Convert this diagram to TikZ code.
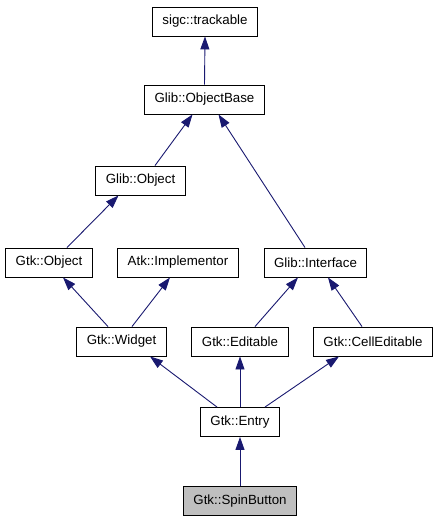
\documentclass[tikz,border=0pt]{standalone}
\usepackage{fontspec}
\setmainfont{Liberation Sans}
\usetikzlibrary{arrows.meta,calc}
\definecolor{edgec}{HTML}{191970}
\definecolor{currc}{HTML}{BFBFBF}

\begin{document}
\begin{tikzpicture}[x=1pt, y=-1pt,
  cls/.style={draw=black, line width=0.9pt, fill=white, minimum height=29pt,
    inner xsep=10pt, font=\fontsize{13.3}{16}\selectfont},
  inh/.style={draw=edgec, line width=0.9pt, -{Triangle[length=13pt,width=9pt]}}]
  \useasboundingbox (0,0) rectangle (439,523);
  \node[cls] (trackable) at (205,21.5) {sigc::trackable};
  \node[cls] (objectbase) at (204.5,99.5) {Glib::ObjectBase};
  \node[cls] (glibobject) at (140.5,180.5) {Glib::Object};
  \node[cls] (gtkobject) at (49,262.5) {Gtk::Object};
  \node[cls] (implementor) at (178,262.5) {Atk::Implementor};
  \node[cls] (interface) at (315.5,262.5) {Glib::Interface};
  \node[cls] (widget) at (121.5,341.5) {Gtk::Widget};
  \node[cls] (editable) at (240,341.5) {Gtk::Editable};
  \node[cls] (celleditable) at (373,341.5) {Gtk::CellEditable};
  \node[cls] (entry) at (240,422) {Gtk::Entry};
  \node[cls, fill=currc] (spinbutton) at (240,501) {Gtk::SpinButton};
  \draw[inh] (objectbase.north) -- (trackable.south);
  \draw[inh] ($(glibobject.north)+(14.5,0)$) -- ($(objectbase.south)+(-12,0)$);
  \draw[inh] ($(interface.north)+(-10.5,0)$) -- ($(objectbase.south)+(14,0)$);
  \draw[inh] ($(gtkobject.north)+(18,0)$) -- ($(glibobject.south)+(-22,0)$);
  \draw[inh] ($(widget.north)+(-13.5,0)$) -- ($(gtkobject.south)+(14,0)$);
  \draw[inh] ($(widget.north)+(10.5,0)$) -- ($(implementor.south)+(-8,0)$);
  \draw[inh] ($(editable.north)+(15,0)$) -- ($(interface.south)+(-17.5,0)$);
  \draw[inh] ($(celleditable.north)+(-11,0)$) -- ($(interface.south)+(12.5,0)$);
  \draw[inh] ($(entry.north)+(-23,0)$) -- ($(widget.south)+(28.5,0)$);
  \draw[inh] (entry.north) -- (editable.south);
  \draw[inh] ($(entry.north)+(25,0)$) -- ($(celleditable.south)+(-34,0)$);
  \draw[inh] (spinbutton.north) -- (entry.south);
\end{tikzpicture}
\end{document}
